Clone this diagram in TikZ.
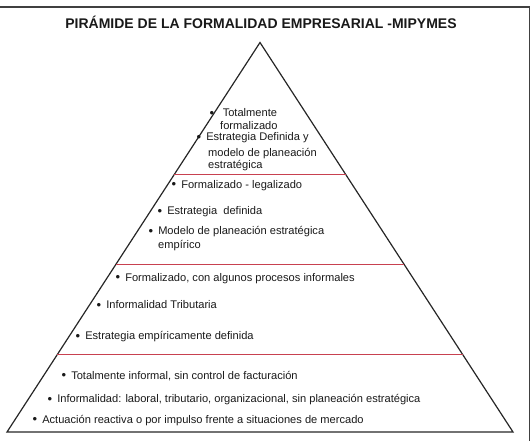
\documentclass[tikz,border=0pt]{standalone}
\usepackage{fontspec}
\setmainfont{Liberation Sans}
\newcommand{\bul}{{\fontsize{13}{13}\selectfont\raisebox{-0.3pt}{\textbullet}}}
\begin{document}
\begin{tikzpicture}[x=1pt,y=-1pt,
  item/.style={anchor=base west,inner sep=0pt,font=\fontsize{11.1}{13}\selectfont,text=black!90},
  divider/.style={draw={rgb,255:red,200;green,65;blue,80},line width=1pt},
  frame/.style={draw=black!75,line width=1.3pt},
  pyr/.style={draw=black!85,line width=1.2pt,line join=miter}]
\useasboundingbox (0,0) rectangle (531,441);
\draw[frame] (0,7) -- (529.5,7) -- (529.5,441);
\node[font=\bfseries\fontsize{14}{16}\selectfont,inner sep=0pt,text=black!90] (title) at (261,22.7) {PIRÁMIDE DE LA FORMALIDAD EMPRESARIAL -MIPYMES};
\coordinate (apex) at (260,42.5);
\coordinate (bl) at (7,432);
\coordinate (br) at (513,432);
\draw[pyr] (apex) -- (br) -- (bl) -- cycle;
% dividers
\path (apex) -- (bl) coordinate[pos=0.33890] (d1l) coordinate[pos=0.56996] (d2l) coordinate[pos=0.80103] (d3l);
\path (apex) -- (br) coordinate[pos=0.33890] (d1r) coordinate[pos=0.56996] (d2r) coordinate[pos=0.80103] (d3r);
\draw[divider] (d1l) -- (d1r);
\draw[divider] (d2l) -- (d2r);
\draw[divider] (d3l) -- (d3r);
% top section
\node[item] (t1) at (209.5,117) {\bul\hspace{8.5pt}Totalmente};
\node[item] (t1b) at (220,130) {formalizado};
\node[item] (t2) at (196.5,141) {\bul\hspace{5pt}Estrategia Definida y};
\node[item] (t2b) at (208,157) {modelo de planeación};
\node[item] (t2c) at (208,169) {estratégica};
% second section
\node[item] (s1) at (171.5,188.3) {\bul\hspace{5pt}Formalizado - legalizado};
\node[item] (s2) at (157.5,215) {\bul\hspace{5pt}Estrategia\ \ definida};
\node[item] (s3) at (148.5,235) {\bul\hspace{5pt}Modelo de planeación estratégica};
\node[item] (s3b) at (158,248.3) {empírico};
% third section
\node[item] (m1) at (115.5,281.3) {\bul\hspace{5pt}Formalizado, con algunos procesos informales};
\node[item] (m2) at (96.5,308.7) {\bul\hspace{5pt}Informalidad Tributaria};
\node[item] (m3) at (75.5,340) {\bul\hspace{5pt}Estrategia empíricamente definida};
% bottom section
\node[item] (b1) at (61.5,379) {\bul\hspace{5pt}Totalmente informal, sin control de facturación};
\node[item] (b2) at (47.5,402.7) {\bul\hspace{5pt}Informalidad: laboral, tributario, organizacional, sin planeación estratégica};
\node[item] (b3) at (32.5,423.3) {\bul\hspace{5pt}Actuación reactiva o por impulso frente a situaciones de mercado};
\end{tikzpicture}
\end{document}
